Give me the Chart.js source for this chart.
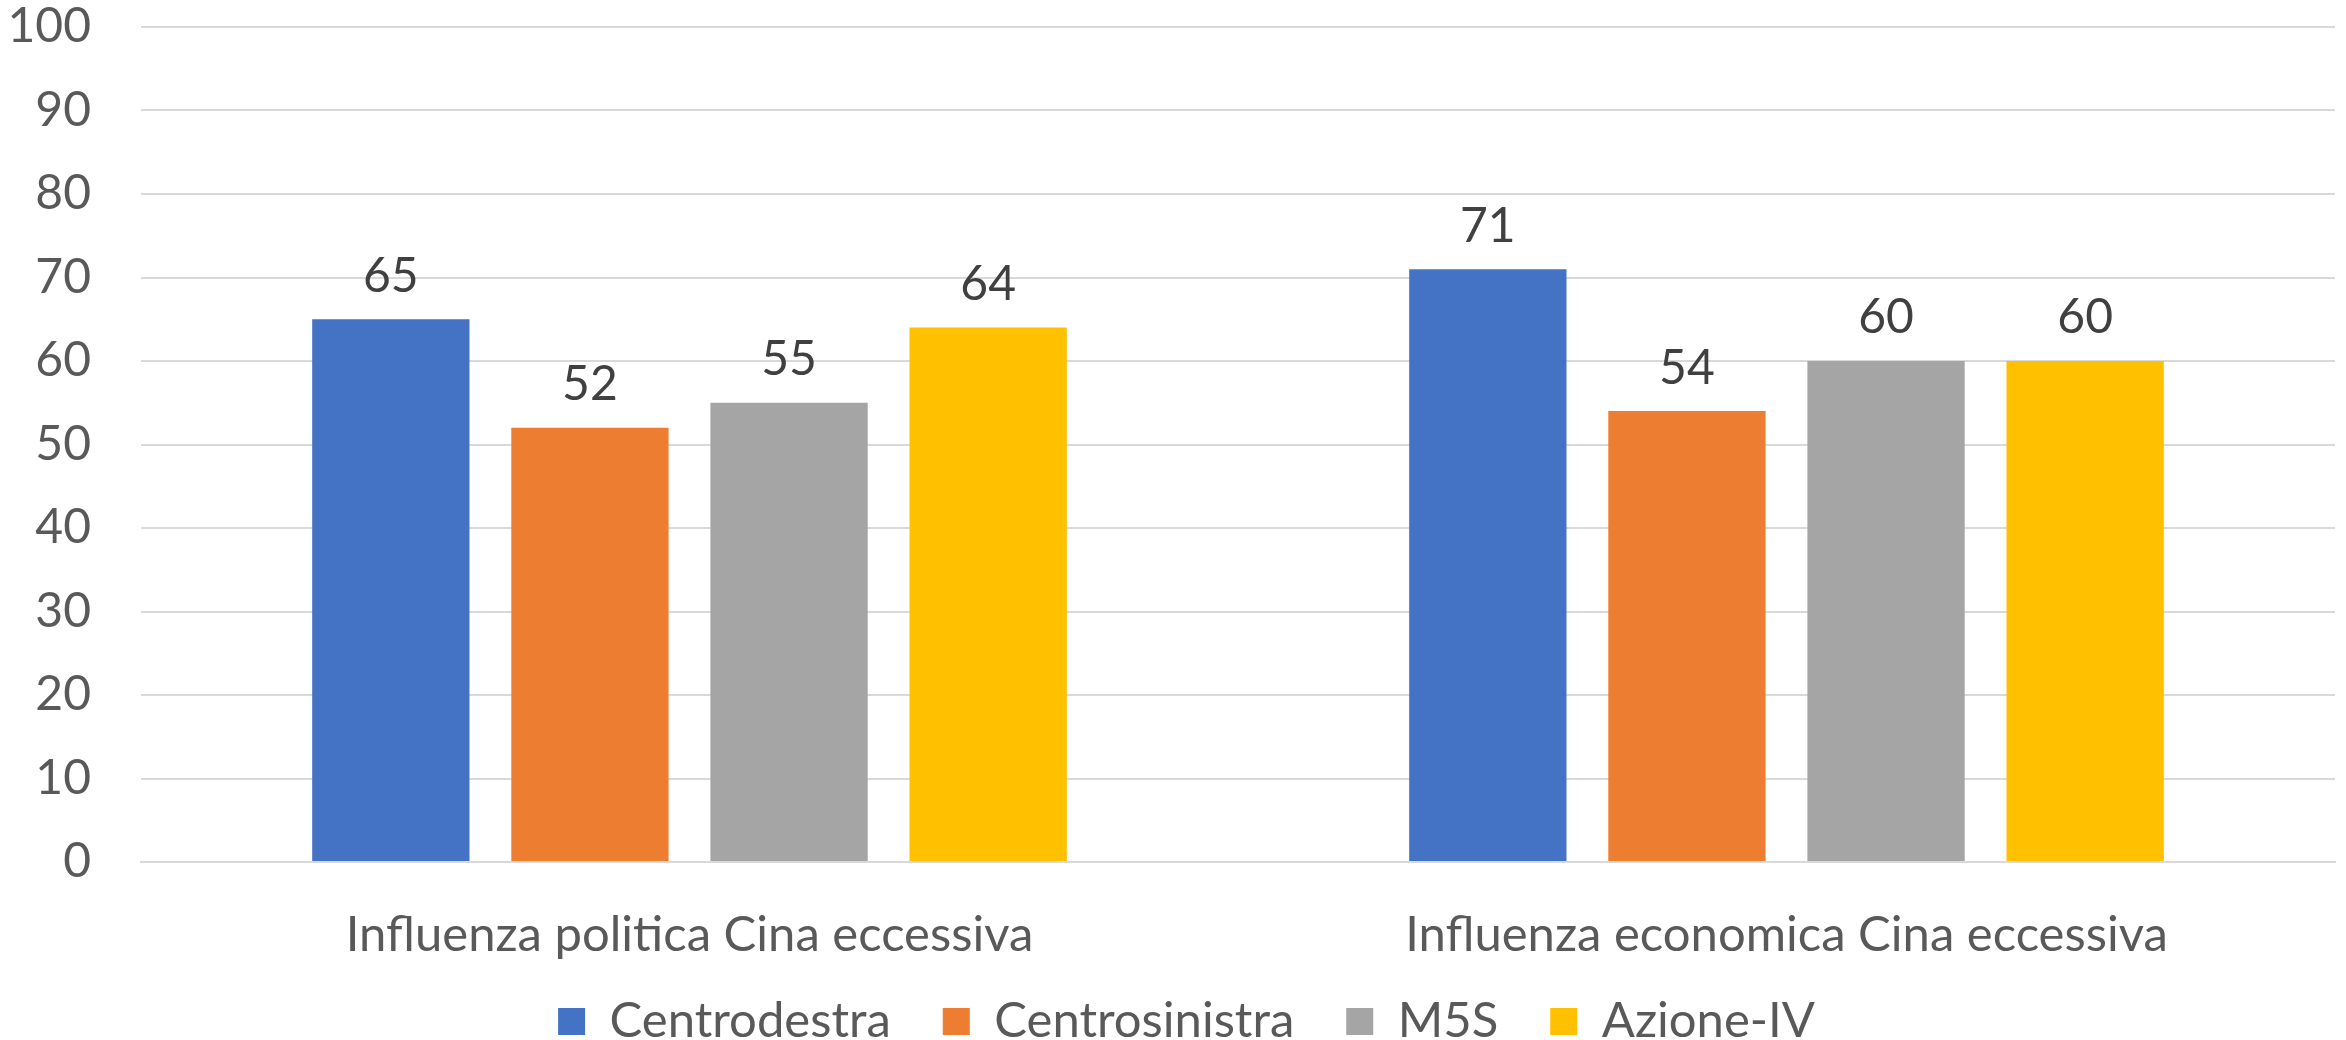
<!DOCTYPE html>
<html>
<head>
<meta charset="utf-8">
<script src="https://cdn.jsdelivr.net/npm/chart.js@4/dist/chart.umd.min.js"></script>
<style>
  body { margin: 0; background: #fff; }
  #wrap { width: 2346px; height: 1040px; }
</style>
</head>
<body>
<div id="wrap"><canvas id="barChart" width="2346" height="1040"></canvas></div>
<script>
// categories + series
const categories = ['Influenza politica Cina eccessiva', 'Influenza economica Cina eccessiva'];
const seriesNames = ['Centrodestra', 'Centrosinistra', 'M5S', 'Azione-IV'];
const centrodestra = [65, 71];
const centrosinistra = [52, 54];
const m5s = [55, 60];
const azioneIV = [64, 60];
const seriesColors = ['#4472C4', '#ED7D31', '#A5A5A5', '#FFC000'];

const FONT = 'Lato';
const NUM_FS = 48;   // tick numbers + value labels
const TXT_FS = 49;   // category labels + legend

// value labels above each bar
const barLabels = {
    id: 'barLabels',
    afterDatasetsDraw(chart) {
        const ctx = chart.ctx;
        ctx.save();
        ctx.font = NUM_FS + 'px ' + FONT;
        ctx.fillStyle = '#404040';
        ctx.textAlign = 'center';
        ctx.textBaseline = 'middle';
        chart.data.datasets.forEach((ds, i) => {
            chart.getDatasetMeta(i).data.forEach((bar, j) => {
                ctx.fillText(ds.data[j], bar.x, bar.y - 43);
            });
        });
        ctx.restore();
    }
};

// squeeze legend box so it sits close to the bottom edge
const legendHeight = {
    id: 'legendHeight',
    beforeInit(chart) {
        const origFit = chart.legend.fit;
        chart.legend.fit = function () {
            origFit.bind(chart.legend)();
            this.height = 95;
        };
    }
};

const dataBars = {
    labels: categories,
    datasets: [centrodestra, centrosinistra, m5s, azioneIV].map((vals, i) => ({
        label: seriesNames[i],
        data: vals,
        backgroundColor: seriesColors[i],
        borderWidth: 0,
        categoryPercentage: 0.726,
        barPercentage: 0.79
    }))
};

const optionsBars = {
    responsive: false,
    animation: false,
    layout: { padding: { left: 38, right: 11, top: 0, bottom: 0 } },
    plugins: {
        legend: {
            position: 'bottom',
            labels: {
                boxWidth: 27,
                boxHeight: 27,
                padding: 52,
                color: '#595959',
                font: { family: FONT, size: TXT_FS }
            }
        },
        tooltip: { enabled: false }
    },
    scales: {
        x: {
            grid: { display: false },
            border: { display: true, color: '#D9D9D9', width: 2 },
            ticks: { color: '#595959', font: { family: FONT, size: TXT_FS }, padding: 36 },
            afterFit(scale) {
                scale.height = 83;
                scale.paddingLeft = 0;
                scale.paddingRight = 0;
                // labels hang a bit outside the axis box, don't clip them
                scale._computeLabelArea = () => undefined;
            }
        },
        y: {
            min: 0,
            max: 100,
            ticks: { stepSize: 10, color: '#595959', font: { family: FONT, size: NUM_FS }, padding: 50 },
            grid: { color: '#D9D9D9', lineWidth: 2, drawTicks: false },
            border: { display: false },
            afterFit(scale) {
                scale.width = 103;
                scale.paddingTop = 27;
                scale.paddingBottom = 0;
                scale._computeLabelArea = () => undefined;
            }
        }
    }
};

const barChart = new Chart(
    document.getElementById('barChart').getContext('2d'),
    { type: 'bar', data: dataBars, options: optionsBars, plugins: [barLabels, legendHeight] }
);
</script>
</body>
</html>
